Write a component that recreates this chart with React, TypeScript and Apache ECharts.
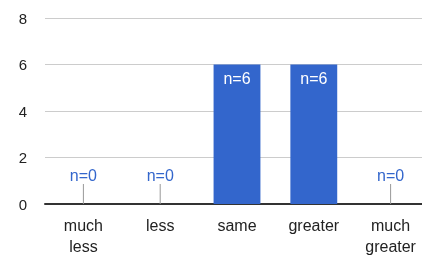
import React, { useEffect, useRef } from "react";
import * as echarts from "echarts";

const categories = ["much\nless", "less", "same", "greater", "much\ngreater"];
const counts = [0, 0, 6, 6, 0];
const yTicks = { min: 0, max: 8, interval: 2 };

const BLUE = "#3366cc";
const FONT = 'Arial, "Liberation Sans", sans-serif';

export default function App() {
  const ref = useRef<HTMLDivElement>(null);
  useEffect(() => {
    if (!ref.current) return;
    const chart = echarts.init(ref.current, undefined, { renderer: "svg" });
    const barData = counts.map((v) => ({
      value: v,
      label:
        v === 0
          ? { position: "top", distance: 21, color: BLUE }
          : { position: "insideTop", distance: 6, color: "#ffffff" },
    }));
    const stemData = counts
      .map((v, i) => [i, v])
      .filter((d) => d[1] === 0);
    chart.setOption({
      animation: false,
      textStyle: { fontFamily: FONT },
      grid: { left: 45, right: 0, top: 18, bottom: 49, containLabel: false },
      xAxis: {
        type: "category",
        data: categories,
        axisLine: { lineStyle: { color: "#333333", width: 2 } },
        axisTick: { show: false },
        axisLabel: {
          color: "#222222",
          fontSize: 16,
          fontFamily: FONT,
          margin: 11,
          lineHeight: 21,
          interval: 0,
        },
      },
      yAxis: {
        type: "value",
        min: yTicks.min,
        max: yTicks.max,
        interval: yTicks.interval,
        axisLine: { show: false },
        axisTick: { show: false },
        splitLine: { lineStyle: { color: "#cccccc", width: 1 } },
        axisLabel: { color: "#222222", fontSize: 15, fontFamily: FONT, margin: 18 },
      },
      series: [
        {
          type: "custom",
          data: stemData,
          z: 1,
          renderItem: (params: any, api: any) => {
            const p = api.coord([api.value(0), api.value(1)]);
            return {
              type: "line",
              shape: { x1: p[0], y1: p[1], x2: p[0], y2: p[1] - 20 },
              style: { stroke: "#999999", lineWidth: 1 },
            };
          },
        },
        {
          type: "bar",
          data: barData,
          barWidth: "61%",
          itemStyle: { color: BLUE },
          z: 2,
          label: {
            show: true,
            formatter: "n={c}",
            fontSize: 16,
            fontFamily: FONT,
          },
        },
      ],
    });
    return () => chart.dispose();
  }, []);
  return (
    <div
      style={{
        position: "fixed",
        left: 0,
        top: 0,
        width: 422,
        height: 257,
        overflow: "hidden",
      }}
    >
      <div ref={ref} style={{ width: 429, height: 257 }} />
    </div>
  );
}
